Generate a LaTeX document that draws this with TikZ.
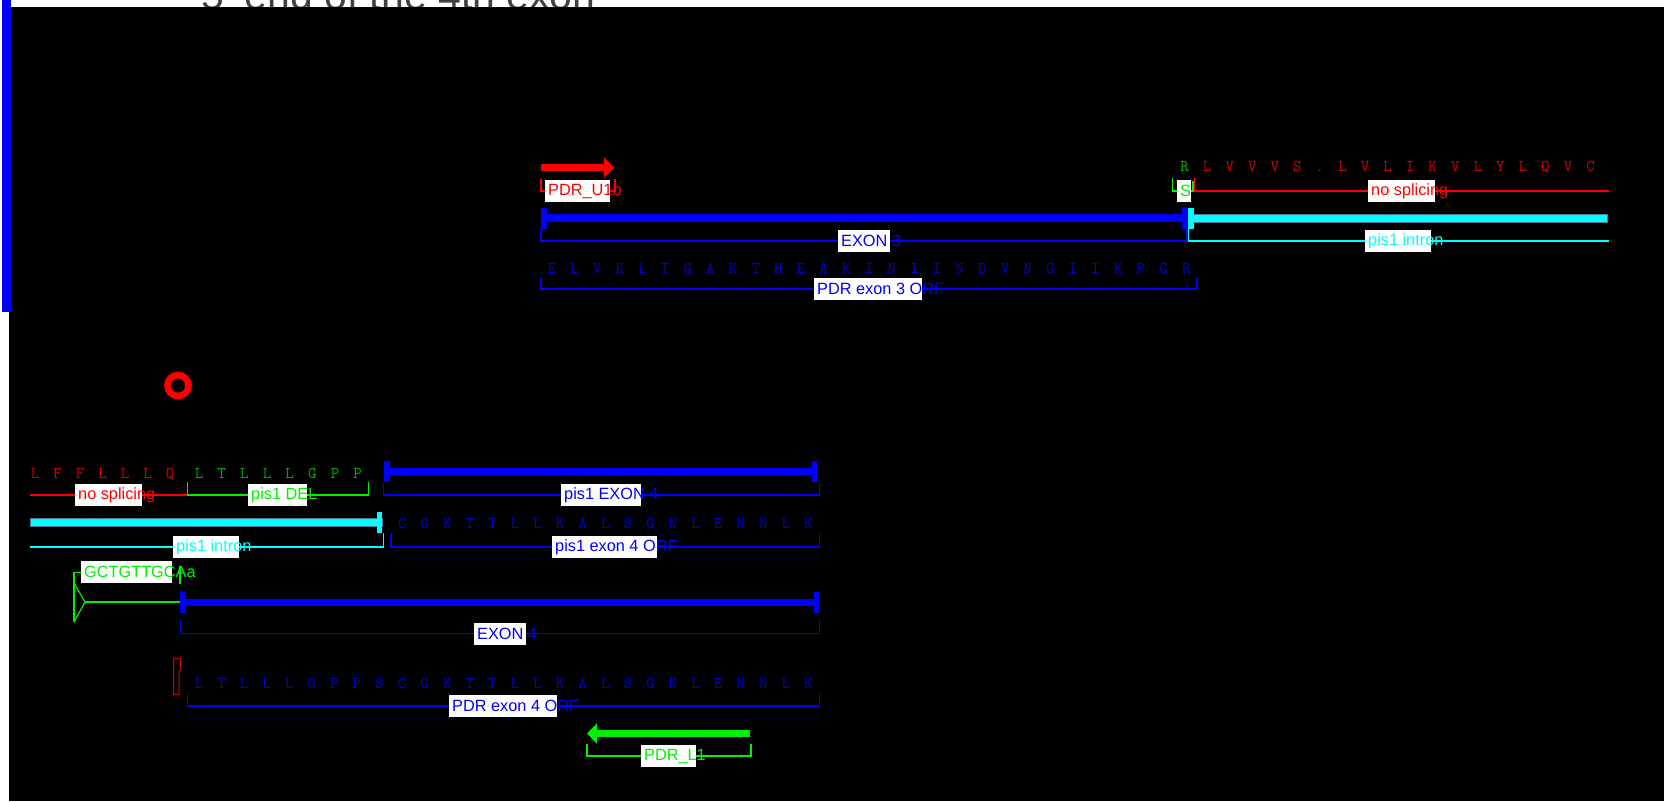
\documentclass[tikz,border=0pt]{standalone}
\usepackage{fontspec}
\setmainfont{Liberation Sans}
\usepackage{tikz}
\usetikzlibrary{arrows.meta}
\definecolor{snapblue}{HTML}{0000FF}
\definecolor{snapred}{HTML}{FF0000}
\definecolor{snapgreen}{HTML}{00F000}
\definecolor{snapcyan}{HTML}{00FFFF}
\definecolor{aablue}{HTML}{0000E0}
\definecolor{aared}{HTML}{D80000}
\definecolor{aagreen}{HTML}{00B400}
\tikzset{
  brk/.style     = {line width=1.2pt},
  primer/.style  = {line width=7pt, -{Triangle[length=10pt, width=20pt]}},
  lblbox/.style  = {fill=white, inner xsep=3pt, inner ysep=0pt, minimum height=22pt,
                    anchor=west, font=\fontsize{16.3}{16}\selectfont},
  aachar/.style  = {inner sep=0pt, anchor=base, font=\ttfamily\fontsize{16.5}{16}\selectfont},
  titletext/.style = {inner sep=0pt, text=black!75, font=\fontsize{41}{41}\selectfont},
}
\newcommand{\featbar}[4]{\fill[#4] (#1,{#3-3.8}) rectangle (#2,{#3+3.8});}
\newcommand{\barcap}[3]{\fill[#3] (#1,{#2-10.5}) rectangle ++(5.5,21);}
\newcommand{\featlbl}[6]{%
  \node[lblbox, text=#5] (#1) at (#2,#3) {\makebox[\dimexpr #4pt-6pt\relax][l]{#6}};}
\newcommand{\aarow}[6]{%
  \foreach \res [count=\k from 0] in {#6}
    \node[aachar, text=#5] (#1\k) at ({#2+\k*#4},#3) {\res};}

\begin{document}
\begin{tikzpicture}[x=1pt, y=-1pt]
  \useasboundingbox (0,0) rectangle (1664,801);
  \fill[white] (0,0) rectangle (1664,801);
  \node[titletext, anchor=base west] (title) at (201,9) {5' end of the 4th exon};
  \fill[black] (9,7) rectangle (1664,801);
  \fill[snapblue] (2,0) rectangle (11,311.5);
  % exon 3 region
  \coordinate (u1a) at (541,167.5);
  \coordinate (u1b) at (614,167.5);
  \draw[primer, snapred] (u1a) -- (u1b);
  \draw[brk, snapred] (541,179) -- (541,191) -- (615,191) -- (615,179);
  \featlbl{lblU1b}{545}{191}{65}{snapred}{PDR\_U1b}
  \aarow{topaa}{1184.7}{171.7}{22.55}{aagreen}{R}
  \aarow{topnx}{1207.2}{171.7}{22.55}{aared}{L,V,V,V,S,.,L,V,L,I,K,V,L,Y,L,Q,V,C}
  \draw[brk, snapgreen] (1172.5,177.5) -- (1172.5,191) -- (1193,191) -- (1193,181);
  \featlbl{lblS}{1177}{191}{14}{snapgreen}{S}
  \draw[brk, snapred] (1194.5,178) -- (1194.5,191) -- (1609,191);
  \featlbl{lblNoSplA}{1368}{191}{67}{snapred}{no splicing}
  \featbar{541}{1187}{218}{snapblue}
  \barcap{541}{218}{snapblue}
  \barcap{1181.5}{218}{snapblue}
  \featbar{1188}{1607}{218}{snapcyan, draw=cyan!55!black, line width=0.6pt}
  \barcap{1188}{218}{snapcyan}
  \draw[brk, snapblue] (541,228) -- (541,241) -- (1187,241) -- (1187,228);
  \featlbl{lblEx3}{838}{241}{52}{snapblue}{EXON 3}
  \draw[brk, snapcyan] (1188.5,228) -- (1188.5,241) -- (1609,241);
  \featlbl{lblIntA}{1365}{241}{66}{snapcyan}{pis1 intron}
  \aarow{ex3aa}{551.8}{273}{22.66}{aablue}{E,L,V,K,L,T,G,A,K,T,H,E,A,K,I,N,I,I,N,D,V,N,G,I,I,K,P,G,R}
  \draw[brk, snapblue] (541,278) -- (541,289) -- (1197,289) -- (1197,278);
  \featlbl{lblOrf3}{814}{289}{108}{snapblue}{PDR exon 3 ORF}
  \draw[snapred, line width=6.6pt] (178,385.5) circle[radius=10.5pt];
  % exon 4 region
  \aarow{nsaa}{35}{478.5}{22.5}{aared}{L,F,F,L,L,L,Q}
  \aarow{delaa}{199}{478.5}{22.67}{aagreen}{L,T,L,L,L,G,P,P}
  \draw[brk, snapred] (30,495) -- (187,495);
  \featlbl{lblNoSplB}{75}{495}{67}{snapred}{no splicing}
  \draw[brk, snapgreen] (187.5,482) -- (187.5,495) -- (368.5,495) -- (368.5,482);
  \featlbl{lblDel}{248}{495}{59}{snapgreen}{pis1 DEL}
  \featbar{384}{817}{471.5}{snapblue}
  \barcap{384}{471.5}{snapblue}
  \barcap{811.5}{471.5}{snapblue}
  \draw[brk, snapblue] (383.5,482) -- (383.5,495) -- (819.5,495) -- (819.5,482);
  \featlbl{lblPisEx4}{561}{495}{80}{snapblue}{pis1 EXON 4}
  \featbar{30}{382}{522.5}{snapcyan, draw=cyan!55!black, line width=0.6pt}
  \barcap{376.5}{522.5}{snapcyan}
  \draw[brk, snapcyan] (30,547) -- (383.5,547) -- (383.5,533);
  \featlbl{lblIntB}{173}{547}{66}{snapcyan}{pis1 intron}
  \aarow{pisaa}{402.3}{528.5}{22.56}{aablue}{C,G,K,T,T,L,L,K,A,L,S,G,N,L,E,N,N,L,K}
  \draw[brk, snapblue] (391,533) -- (391,547) -- (819.5,547) -- (819.5,533);
  \featlbl{lblPisOrf}{552}{547}{105}{snapblue}{pis1 exon 4 ORF}
  \draw[brk, snapgreen] (81,572.5) -- (74,572.5) -- (74,622);
  \draw[brk, snapgreen] (74,583) -- (85,602) -- (74,622);
  \draw[brk, snapgreen] (85,602) -- (180,602);
  \draw[brk, snapgreen] (180,566) -- (180,584);
  \featlbl{lblSite}{81}{572}{91}{snapgreen}{GCTGTTGCAa}
  \featbar{180}{819}{602.5}{snapblue}
  \barcap{180}{602.5}{snapblue}
  \barcap{813.5}{602.5}{snapblue}
  \draw[brk, snapblue] (180.5,620) -- (180.5,633.5) -- (819.5,633.5) -- (819.5,620);
  \featlbl{lblEx4}{474}{633.5}{52}{snapblue}{EXON 4}
  \draw[red!85!black, line width=1pt] (173.5,658.5) -- (180.5,658.5) -- (180.5,670)
    -- (179,671.5) -- (179,694.5) -- (173.5,694.5) -- cycle;
  \aarow{pdraa}{199}{688.3}{22.57}{aablue}{L,T,L,L,L,G,P,P,S,C,G,K,T,T,L,L,K,A,L,S,G,N,L,E,N,N,L,K}
  \draw[brk, snapblue] (187.5,693) -- (187.5,706) -- (819.5,706) -- (819.5,693);
  \featlbl{lblOrf4}{449}{706}{108}{snapblue}{PDR exon 4 ORF}
  \coordinate (l1a) at (750,733.5);
  \coordinate (l1b) at (587,733.5);
  \draw[primer, snapgreen] (l1a) -- (l1b);
  \draw[brk, snapgreen] (587,744) -- (587,756) -- (751,756) -- (751,744);
  \featlbl{lblL1}{641}{756}{55}{snapgreen}{PDR\_L1}
\end{tikzpicture}
\end{document}
